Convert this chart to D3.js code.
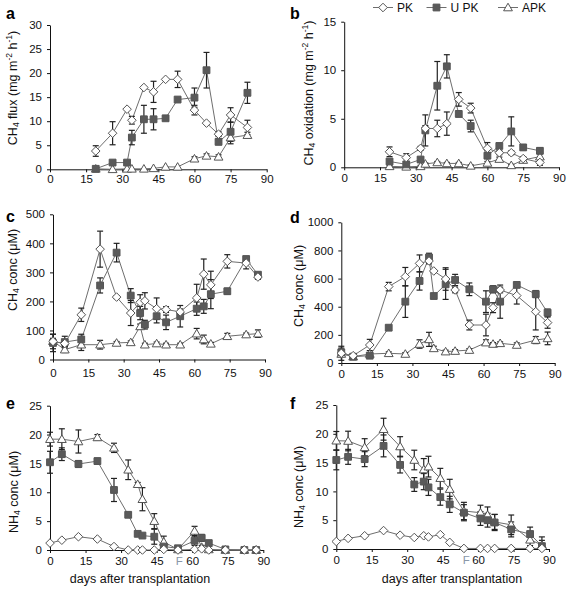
<!DOCTYPE html>
<html><head><meta charset="utf-8">
<script src="https://cdn.jsdelivr.net/npm/d3@7"></script>
<style>
body{margin:0;background:#fff;}
svg{display:block;font-family:"Liberation Sans",Arial,sans-serif;}
</style></head>
<body>
<svg id="chart" width="568" height="592"></svg>
<script>
// ---------- data ----------
const seriesNames = ["PK", "U PK", "APK"];
const xTicks = [0, 15, 30, 45, 60, 75, 90];
const daysAB = [19, 26, 32, 34, 39, 43, 48, 53, 60, 65, 70, 75, 82];
const daysCF = [0, 5, 12, 20, 27, 33, 37, 39, 44, 48, 54, 61, 64, 67, 74, 82, 87];

// a: CH4 flux
const fluxPK     = [3.8, 7.5, 12.5, 10.2, 17.0, 16.1, 18.7, 18.7, 12.3, 9.6, 7.3, 11.3, 8.7];
const fluxPKerr  = [1.1, 2.4, 0, 0.8, 0, 2.2, 0, 1.7, 1.0, 0, 0.5, 1.5, 1.5];
const fluxUPK    = [0.1, 1.4, 1.4, 6.6, 10.4, 10.4, 10.6, 14.5, 14.9, 20.6, 5.7, 7.8, 15.9];
const fluxUPKerr = [0, 0.3, 0.3, 1.5, 2.9, 2.2, 0.4, 0, 2.0, 3.7, 0.4, 2.0, 2.2];
const fluxAPK    = [0.1, 0, 0.1, 0.1, 0.1, 0.2, 0.5, 0.5, 2.2, 2.8, 2.6, 6.6, 7.1];
const fluxAPKerr = [0, 0, 0, 0, 0, 0, 0, 0, 0.4, 0.4, 0.4, 1.3, 0.6];

// b: CH4 oxidation
const oxPK     = [1.6, 1.0, 1.95, 4.0, 4.0, 4.5, 7.0, 6.1, 1.95, 1.5, 1.5, 0.9, 0.5];
const oxPKerr  = [0.5, 0.4, 0.2, 0.3, 0.85, 1.2, 0.7, 0.5, 0.6, 0.2, 0.2, 0.2, 0.3];
const oxUPK    = [0.6, 0.3, 0.8, 3.8, 8.4, 10.4, 5.5, 4.25, 1.2, 2.2, 3.7, 2.05, 1.7];
const oxUPKerr = [0.2, 0.2, 0.2, 1.6, 2.5, 1.2, 0.3, 0.6, 0.3, 0.2, 1.5, 0.25, 0.3];
const oxAPK    = [0.1, 0.05, 0.1, 0.35, 0.5, 0.4, 0.4, 0.15, 0.45, 0.85, 0.2, 0.75, 1.1];
const oxAPKerr = [0.1, 0.1, 0.1, 0.1, 0.1, 0.1, 0.1, 0.1, 0.15, 0.2, 0.1, 0.2, 0.3];

// c: CH4 conc
const cPK     = [62, 55, 154, 380, 215, 160, 197, 202, 175, 172, 164, 212, 294, 257, 338, 332, 284];
const cPKerr  = [25, 10, 23, 62, 5, 43, 26, 28, 37, 10, 10, 47, 52, 47, 23, 20, 8];
const cUPK    = [57, 60, 69, 255, 368, 220, 160, 120, 149, 128, 149, 175, 183, 225, 235, 346, 292];
const cUPKerr = [30, 20, 18, 26, 32, 24, 23, 15, 23, 25, 37, 23, 24, 50, 10, 8, 8];
const cAPK    = [63, 34, 51, 51, 57, 59, 114, 51, 55, 51, 51, 89, 69, 54, 80, 86, 89];
const cAPKerr = [10, 10, 20, 15, 5, 5, 8, 5, 5, 5, 5, 18, 15, 5, 10, 5, 13];

// d: CH4 conc
const dPK     = [69, 52, 128, 543, 614, 708, 725, 654, 597, 519, 270, 270, 393, 519, 479, 365, 287];
const dPKerr  = [50, 10, 40, 30, 65, 60, 20, 10, 80, 20, 35, 77, 35, 20, 60, 130, 40];
const dUPK    = [76, 45, 52, 251, 436, 583, 750, 476, 559, 590, 524, 436, 524, 436, 555, 490, 358];
const dUPKerr = [30, 10, 10, 15, 112, 65, 30, 15, 107, 40, 45, 77, 25, 118, 15, 25, 25];
const dAPK    = [64, 45, 64, 69, 64, 135, 168, 104, 81, 85, 92, 145, 135, 140, 128, 163, 175];
const dAPKerr = [10, 10, 10, 10, 10, 30, 50, 15, 10, 10, 10, 20, 10, 10, 15, 25, 45];

// e: NH4 conc
const ePK     = [1.2, 1.7, 2.3, 1.9, 0.6, 0, 0, 0, 0, 0.1, 0, 0.1, 0.2, 0, 0, 0, 0];
const ePKerr  = [0, 0, 0, 0.2, 0.2, 0, 0, 0, 0, 0, 0, 0, 0, 0, 0, 0, 0];
const eUPK    = [15.2, 16.6, 14.9, 15.4, 10.4, 6.1, 2.8, 2.5, 2.3, 0.6, 0.3, 1.6, 2.1, 1.2, 0.1, 0, 0];
const eUPKerr = [1.9, 1.1, 0.6, 0.5, 2.0, 0.4, 0.2, 0.2, 1.3, 0.3, 0.2, 0.8, 0.6, 0.3, 0.1, 0.1, 0.1];
const eAPK    = [19.2, 19.2, 18.8, 19.5, 17.7, 13.9, 11.4, 8.8, 5.0, 1.4, 0.1, 3.3, 0.5, 0.1, 0, 0, 0];
const eAPKerr = [1.2, 1.8, 2.0, 0.5, 0.8, 1.7, 0.3, 2.0, 1.3, 1.0, 0.2, 0.8, 0.3, 0.1, 0.1, 0.1, 0.1];

// f: NH4 conc
const fPK     = [1.3, 1.85, 2.3, 3.2, 2.4, 2.0, 2.3, 2.1, 2.5, 1.15, 0.1, 0.1, 0.1, 0.1, 0.1, 0.1, 0.1];
const fPKerr  = [0, 0, 0, 0, 0, 0, 0, 0, 0, 0, 0, 0, 0, 0, 0, 0, 0];
const fUPK    = [15.45, 16.0, 15.6, 17.9, 14.6, 11.2, 11.7, 10.7, 9.0, 7.75, 6.3, 5.3, 5.0, 4.6, 3.4, 2.6, 0.5];
const fUPKerr = [1.7, 1.3, 1.3, 1.9, 1.4, 1.2, 1.4, 1.4, 1.4, 1.4, 1.4, 1.2, 1.2, 1.4, 1.3, 1.2, 1.0];
const fAPK    = [18.8, 18.75, 17.65, 20.8, 17.8, 15.45, 13.8, 14.3, 12.3, 10.4, 6.6, 6.3, 5.9, 4.7, 4.2, 1.6, 0.7];
const fAPKerr = [1.6, 1.7, 1.5, 1.9, 1.7, 1.7, 1.9, 1.8, 1.7, 1.7, 1.5, 1.3, 1.4, 1.3, 1.7, 1.0, 1.4];

// ---------- drawing ----------
const svg = d3.select("#chart");
const LINE = "#6e6e6e", MARK = "#555", FILL = "#5a5a5a", ERR = "#222";
const TICKFONT = 11.5;

const markerPath = {
  PK: "M0,-4.3L4.3,0L0,4.3L-4.3,0Z",
  "U PK": "M-3.4,-3.4H3.4V3.4H-3.4Z",
  APK: "M0,-4.3L4.4,3.3L-4.4,3.3Z"
};
const markerFill = {PK: "#fff", "U PK": FILL, APK: "#fff"};

function drawMarker(g, name, x, y) {
  g.append("path").attr("d", markerPath[name])
    .attr("transform", `translate(${x},${y})`)
    .attr("fill", markerFill[name])
    .attr("stroke", MARK).attr("stroke-width", 1);
}

function yTitle(g, x, y, parts) {
  const t = g.append("text").attr("transform", `translate(${x},${y}) rotate(-90)`)
    .attr("text-anchor", "middle").attr("dominant-baseline", "central")
    .attr("font-size", 12.5).attr("fill", "#111");
  parts.forEach(p => {
    const s = t.append("tspan").text(p.t);
    if (p.sub) s.attr("font-size", 8.5).attr("dy", 3);
    else if (p.sup) s.attr("font-size", 8.5).attr("dy", -4);
    if (p.dy) s.attr("dy", p.dy);
  });
}

function panel(cfg) {
  const g = svg.append("g");
  const x = d3.scaleLinear().domain([0, 90]).range(cfg.xr);
  const y = d3.scaleLinear().domain([0, cfg.ymax]).range(cfg.yr);

  const ax = g.append("g").attr("transform", `translate(0,${cfg.yr[0]})`)
    .call(d3.axisBottom(x).tickValues(xTicks).tickSize(3).tickSizeOuter(0).tickPadding(cfg.xpad).tickFormat(d3.format("d")));
  const ay = g.append("g").attr("transform", `translate(${cfg.xr[0]},0)`)
    .call(d3.axisLeft(y).tickValues(cfg.yTicks).tickSize(3).tickSizeOuter(0).tickPadding(5).tickFormat(d3.format("d")));
  [ax, ay].forEach(a => {
    a.selectAll("text").attr("font-size", TICKFONT).attr("fill", "#111")
      .attr("font-family", "'Liberation Sans', Arial, sans-serif");
    a.selectAll("line").attr("stroke", "#111");
    a.select(".domain").attr("stroke", "#111");
  });

  cfg.series.forEach(s => {
    const pts = cfg.days.map((d, i) => [x(d), y(s.v[i])]);
    g.append("path").attr("d", d3.line()(pts)).attr("fill", "none")
      .attr("stroke", LINE).attr("stroke-width", 1);
  });
  cfg.series.forEach(s => {
    cfg.days.forEach((d, i) => {
      const e = s.e[i];
      if (!e) return;
      const cx = x(d), y1 = y(s.v[i] + e), y0 = y(Math.max(0, s.v[i] - e));
      g.append("line").attr("x1", cx).attr("x2", cx).attr("y1", y1).attr("y2", y0)
        .attr("stroke", ERR).attr("stroke-width", 1.2);
      [y1, y0].forEach(yy => g.append("line").attr("x1", cx - 3).attr("x2", cx + 3)
        .attr("y1", yy).attr("y2", yy).attr("stroke", ERR).attr("stroke-width", 1.2));
    });
  });
  cfg.series.forEach(s => {
    cfg.days.forEach((d, i) => drawMarker(g, s.name, x(d), y(s.v[i])));
  });

  g.append("text").attr("x", cfg.letter[0]).attr("y", cfg.letter[1])
    .attr("font-size", 16).attr("font-weight", "bold").attr("fill", "#000").text(cfg.id);
  yTitle(g, cfg.title[0], cfg.title[1], cfg.titleParts);
  if (cfg.xlabel) {
    g.append("text").attr("x", cfg.xlabel[0]).attr("y", cfg.xlabel[1]).attr("text-anchor", "middle")
      .attr("font-size", 12.5).attr("fill", "#111").text("days after transplantation");
  }
  if (cfg.fmark) {
    g.append("text").attr("x", x(cfg.fmark)).attr("y", cfg.yr[0] + 3 + cfg.xpad)
      .attr("dy", "0.71em")
      .attr("text-anchor", "middle").attr("font-size", TICKFONT).attr("fill", "#8a97a8").text("F");
  }
  return {g, x, y};
}

const ch4Conc = [{t: "CH"}, {t: "4", sub: true}, {t: " conc (\u03bcM)", dy: -3}];
const nh4Conc = [{t: "NH"}, {t: "4", sub: true}, {t: " conc (\u03bcM)", dy: -3}];
const perArea = [{t: "-2", sup: true}, {t: " h", dy: 4}, {t: "-1", sup: true}, {t: ")", dy: 4}];

panel({id: "a", xr: [50, 266.7], yr: [169.3, 25], ymax: 30, yTicks: [0,5,10,15,20,25,30], xpad: 3,
  days: daysAB, letter: [6, 19], title: [13, 88],
  titleParts: [{t: "CH"}, {t: "4", sub: true}, {t: " flux (mg m", dy: -3}].concat(perArea),
  series: [{name: "APK", v: fluxAPK, e: fluxAPKerr}, {name: "U PK", v: fluxUPK, e: fluxUPKerr}, {name: "PK", v: fluxPK, e: fluxPKerr}]});

panel({id: "b", xr: [344.2, 559], yr: [167.3, 21.7], ymax: 15, yTicks: [0,5,10,15], xpad: 4,
  days: daysAB, letter: [290, 19], title: [309, 93],
  titleParts: [{t: "CH"}, {t: "4", sub: true}, {t: " oxidation (mg m", dy: -3}].concat(perArea),
  series: [{name: "APK", v: oxAPK, e: oxAPKerr}, {name: "U PK", v: oxUPK, e: oxUPKerr}, {name: "PK", v: oxPK, e: oxPKerr}]});

panel({id: "c", xr: [53, 265], yr: [359.5, 214.3], ymax: 500, yTicks: [0,100,200,300,400,500], xpad: 6,
  days: daysCF, letter: [6, 222], title: [13, 270], titleParts: ch4Conc,
  series: [{name: "APK", v: cAPK, e: cAPKerr}, {name: "U PK", v: cUPK, e: cUPKerr}, {name: "PK", v: cPK, e: cPKerr}]});

panel({id: "d", xr: [341.3, 554.7], yr: [363, 222.3], ymax: 1000, yTicks: [0,200,400,600,800,1000], xpad: 4,
  days: daysCF, letter: [290, 223], title: [299, 286], titleParts: ch4Conc,
  series: [{name: "APK", v: dAPK, e: dAPKerr}, {name: "U PK", v: dUPK, e: dUPKerr}, {name: "PK", v: dPK, e: dPKerr}]});

panel({id: "e", xr: [50, 263.3], yr: [550, 405.7], ymax: 25, yTicks: [0,5,10,15,20,25], xpad: 4,
  days: daysCF, letter: [6, 409], title: [14, 492], titleParts: nh4Conc, xlabel: [140, 583], fmark: 54.5,
  series: [{name: "APK", v: eAPK, e: eAPKerr}, {name: "U PK", v: eUPK, e: eUPKerr}, {name: "PK", v: ePK, e: ePKerr}]});

panel({id: "f", xr: [336.3, 549], yr: [549, 405], ymax: 25, yTicks: [0,5,10,15,20,25], xpad: 4,
  days: daysCF, letter: [290, 409], title: [299, 487], titleParts: nh4Conc, xlabel: [452, 583], fmark: 55,
  series: [{name: "APK", v: fAPK, e: fAPKerr}, {name: "U PK", v: fUPK, e: fUPKerr}, {name: "PK", v: fPK, e: fPKerr}]});

// legend
const leg = svg.append("g");
const legX = [373, 426.5, 498];
seriesNames.forEach((n, i) => {
  const lx = legX[i], ly = 7.5;
  leg.append("line").attr("x1", lx).attr("x2", lx + 20).attr("y1", ly).attr("y2", ly)
    .attr("stroke", LINE).attr("stroke-width", 1);
  drawMarker(leg, n, lx + 10, ly);
  leg.append("text").attr("x", lx + 24).attr("y", ly).attr("dominant-baseline", "central")
    .attr("font-size", 12).attr("fill", "#111").text(n);
});
</script>
</body></html>
